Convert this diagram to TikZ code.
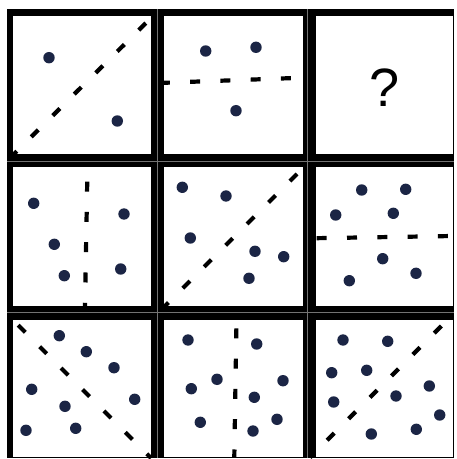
\documentclass[tikz,border=0pt]{standalone}
\usepackage{fontspec}
\setmainfont{Liberation Sans}
\usepackage{xcolor}
\definecolor{dotnavy}{HTML}{1B2545}
\tikzset{
  panel/.style={fill=white, draw=none},
  dot/.style={fill=dotnavy, draw=none},
  cut/.style={line width=2.1pt, black, dash pattern=on 5pt off 10.15pt,
              dash phase=#1},
  cut/.default=0pt,
  seam/.style={draw=black!55, line width=0.3pt},
  qmark/.style={font=\fontsize{27}{30}\selectfont, inner sep=0pt},
}

\begin{document}
\begin{tikzpicture}[x=0.5pt, y=-0.5pt]
  \useasboundingbox (0,0) rectangle (456,459);
  %% frame and the nine cells
  \fill[black] (7,9) rectangle (454,458);
  \foreach \xa/\xb in {13/151,164/303,316/453}
    \foreach \ya/\yb in {16/154,167/306,320/457}
      \fill[panel] (\xa,\ya) rectangle (\xb,\yb);
  \foreach \sx in {157.3,307.5}
    \draw[seam] (\sx,9) -- (\sx,458);
  \foreach \sy in {161,312.7}
    \draw[seam] (7,\sy) -- (454,\sy);
  %% row 1
  \foreach \p in {(49,57.7),(117.3,121)}
    \fill[dot] \p circle[radius=2.85pt];
  \draw[cut=2.3pt] (13,155) -- (153,16);
  \foreach \p in {(205.7,51),(256,47.3),(236,110.7)}
    \fill[dot] \p circle[radius=2.85pt];
  \draw[cut=2.1pt] (164,82.8) -- (303,77.7);
  \node[qmark] (qm) at (385,87.7) {?};
  %% row 2
  \foreach \p in {(33.7,203.3),(124,214),(54.3,244.3),(64.3,275.7),(120.7,269)}
    \fill[dot] \p circle[radius=2.85pt];
  \draw[cut=7.85pt] (87.5,167) -- (85,306);
  \foreach \p in {(182.3,187.3),(226,196),(190.3,238),(255,251.3),
                  (283.7,256.7),(249,278.3)}
    \fill[dot] \p circle[radius=2.85pt];
  \draw[cut=1.85pt] (164,307) -- (303,168);
  \foreach \p in {(361.7,190),(405.7,189.3),(335.7,215),(393.3,213.3),
                  (382.7,258.7),(416,273.3),(349.3,280.7)}
    \fill[dot] \p circle[radius=2.85pt];
  \draw[cut=14.8pt] (316,238.2) -- (453,236);
  %% row 3
  \foreach \p in {(59.3,335.7),(86.3,351.7),(114,367.7),(31.7,389.3),
                  (65,406.3),(134.7,399.3),(26,430.3),(75.7,428.3)}
    \fill[dot] \p circle[radius=2.85pt];
  \draw[cut=11.45pt] (13,320) -- (151,458);
  \foreach \p in {(188,340),(256.7,344),(217,379.3),(191.3,388.7),(283,380.7),
                  (254.3,397.3),(200.3,422.3),(277,419.3),(253,431)}
    \fill[dot] \p circle[radius=2.85pt];
  \draw[cut=11pt] (236.5,320) -- (234.3,457);
  \foreach \p in {(343,340),(387.7,341.3),(331.7,372.7),(366.7,370.3),
                  (333.7,402),(396,396),(429.3,386),(439.7,415),
                  (371.3,434),(416.3,429.3)}
    \fill[dot] \p circle[radius=2.85pt];
  \draw[cut=3pt] (310,457.4) -- (447.4,320);
\end{tikzpicture}
\end{document}
